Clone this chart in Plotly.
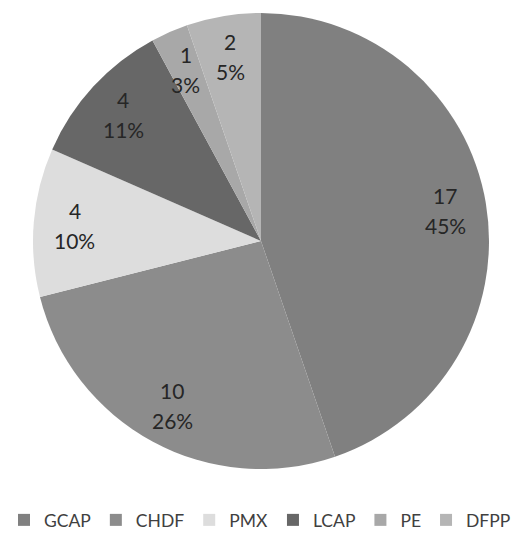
import math
import plotly.graph_objects as go

# Treatment counts and the rounded shares shown on each slice
methods = ["GCAP", "CHDF", "PMX", "LCAP", "PE", "DFPP"]
counts = [17, 10, 4, 4, 1, 2]
shares = ["45%", "26%", "10%", "11%", "3%", "5%"]
colors = ["#808080", "#8c8c8c", "#dddddd", "#676767", "#a8a8a8", "#b5b5b5"]

W, H = 520, 533
cx, cy, r = 261, 241, 228
label_frac = 0.82
font_family = "Lato, Open Sans, Liberation Sans, sans-serif"

fig = go.Figure(
    go.Pie(
        labels=methods,
        values=counts,
        textinfo="none",
        marker=dict(colors=colors, line=dict(width=0)),
        sort=False,
        direction="clockwise",
        rotation=0,
        hoverinfo="label+value",
        domain=dict(x=[(cx - r) / W, (cx + r) / W], y=[(H - cy - r) / H, (H - cy + r) / H]),
    )
)

# Slice labels: count above share, at the mid-angle of each slice
total = sum(counts)
cum = 0
annotations = []
for c, s in zip(counts, shares):
    mid = (cum + c / 2) / total * 2 * math.pi
    cum += c
    px = cx + label_frac * r * math.sin(mid)
    py = cy - label_frac * r * math.cos(mid)
    for txt, shift in ((str(c), 15), (s, -15)):
        annotations.append(
            dict(
                x=px / W, y=(H - py) / H, xref="paper", yref="paper",
                xanchor="center", yanchor="middle",
                text=txt, showarrow=False, yshift=shift,
                font=dict(family=font_family, size=21, color="#262626"),
            )
        )

fig.update_layout(
    width=W,
    height=H,
    margin=dict(l=0, r=0, t=0, b=0, autoexpand=False),
    paper_bgcolor="white",
    plot_bgcolor="white",
    showlegend=True,
    annotations=annotations,
    legend=dict(
        orientation="h",
        x=0.5,
        xanchor="center",
        y=(H - 520) / H,
        yanchor="middle",
        font=dict(family=font_family, size=17.5, color="#404040"),
        itemwidth=30,
        tracegroupgap=0,
    ),
)

fig.write_html("out.html")
